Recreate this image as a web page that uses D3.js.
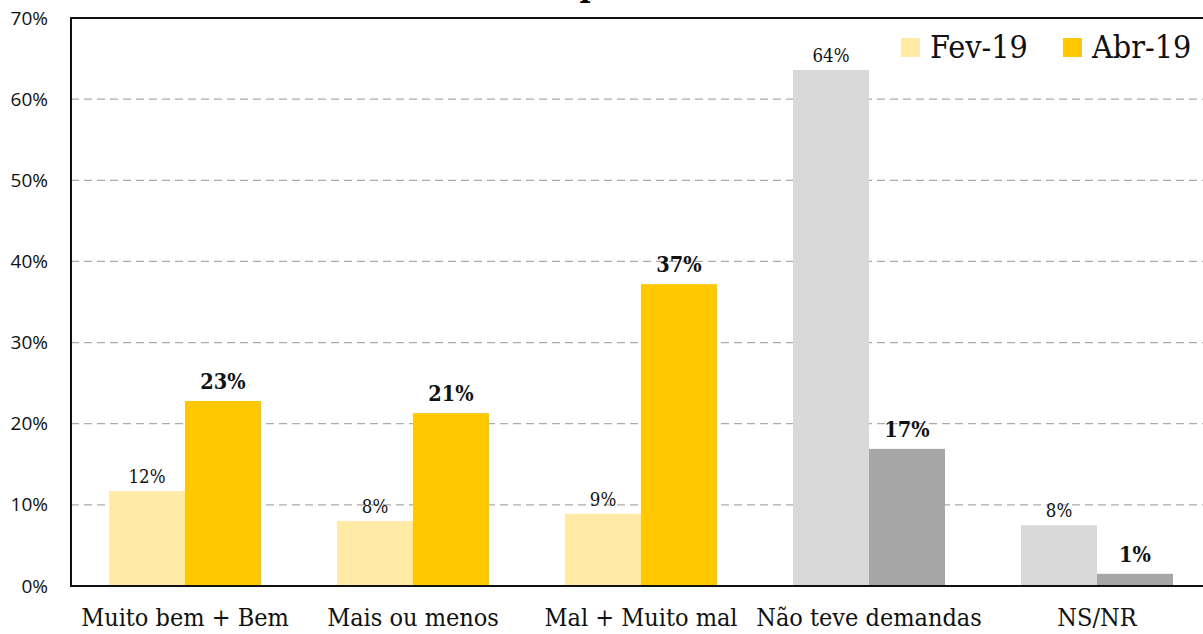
<!DOCTYPE html>
<html>
<head>
<meta charset="utf-8">
<script src="https://cdn.jsdelivr.net/npm/d3@7"></script>
<style>
  body { margin: 0; background: #fff; }
  svg { display: block; }
</style>
</head>
<body>
<div id="chart"></div>
<script>
// chart data
const categories = ["Muito bem + Bem", "Mais ou menos", "Mal + Muito mal", "Não teve demandas", "NS/NR"];
const seriesNames = ["Fev-19", "Abr-19"];
const fevValues = [11.7, 8.0, 8.9, 63.6, 7.5];
const abrValues = [22.8, 21.3, 37.2, 16.9, 1.5];
const fevLabels = ["12%", "8%", "9%", "64%", "8%"];
const abrLabels = ["23%", "21%", "37%", "17%", "1%"];
const yTicks = [0, 10, 20, 30, 40, 50, 60, 70];

const width = 1203, height = 634;
const margins = {top: 18, right: -8, bottom: 48, left: 71};

const svg = d3.select("#chart")
    .append("svg")
    .attr("width", width)
    .attr("height", height);

/* scales */
const x0 = d3.scaleBand()
    .domain(categories)
    .range([margins.left, width - margins.right])
    .paddingInner(1/3)
    .paddingOuter(1/6);
const x1 = d3.scaleBand()
    .domain(seriesNames)
    .range([0, x0.bandwidth()]);
const y = d3.scaleLinear()
    .domain([0, 70])
    .range([height - margins.bottom, margins.top]);

// yellow for the rated answers, grey for the last two
const colors = {
    "Fev-19": d => d.i < 3 ? "#ffeaa6" : "#d9d9d9",
    "Abr-19": d => d.i < 3 ? "#ffc800" : "#a6a6a6"
};

const rows = categories.map((c, i) => ({
    cat: c, i: i,
    vals: [
        {s: "Fev-19", v: fevValues[i], label: fevLabels[i], i: i},
        {s: "Abr-19", v: abrValues[i], label: abrLabels[i], i: i}
    ]
}));

/* title (cut off by the top edge, as in the source) */
svg.append("text")
    .attr("x", 590)
    .attr("y", -3)
    .attr("text-anchor", "middle")
    .style("font-family", "DejaVu Serif")
    .style("font-weight", "bold")
    .style("font-size", "30px")
    .text("p");

/* grid */
svg.append("g")
    .selectAll("line")
    .data(yTicks.filter(t => t > 0 && t < 70))
    .join("line")
    .attr("x1", margins.left)
    .attr("x2", width)
    .attr("y1", d => y(d))
    .attr("y2", d => y(d))
    .attr("stroke", "#ababab")
    .attr("stroke-width", 1.3)
    .attr("stroke-dasharray", "8,5");

/* bars */
const groups = svg.append("g")
    .selectAll("g")
    .data(rows)
    .join("g")
    .attr("transform", d => `translate(${x0(d.cat)},0)`);

groups.selectAll("rect")
    .data(d => d.vals)
    .join("rect")
    .attr("x", d => x1(d.s))
    .attr("y", d => y(d.v))
    .attr("width", x1.bandwidth())
    .attr("height", d => y(0) - y(d.v))
    .attr("fill", d => colors[d.s](d));

groups.selectAll("text")
    .data(d => d.vals)
    .join("text")
    .attr("x", d => x1(d.s) + x1.bandwidth() / 2)
    .attr("y", d => y(d.v) - (d.s === "Fev-19" ? 8 : 12))
    .attr("text-anchor", "middle")
    .style("font-family", "DejaVu Serif")
    .style("font-stretch", "condensed")
    .style("font-weight", d => d.s === "Fev-19" ? "normal" : "bold")
    .style("font-size", d => d.s === "Fev-19" ? "18.5px" : "21.5px")
    .attr("fill", "#111")
    .text(d => d.label);

/* axes */
const yAxis = d3.axisLeft(y).tickValues(yTicks).tickFormat(d => d + "%").tickSize(0).tickPadding(23);
const yGroup = svg.append("g")
    .attr("transform", `translate(${margins.left},0)`)
    .call(yAxis);
yGroup.select(".domain").remove();
yGroup.selectAll("text")
    .style("font-family", "Open Sans")
    .style("font-size", "19px")
    .attr("fill", "#111");

const xAxis = d3.axisBottom(x0).tickSize(0).tickPadding(22);
const xGroup = svg.append("g")
    .attr("transform", `translate(0,${height - margins.bottom})`)
    .call(xAxis);
xGroup.select(".domain").remove();
xGroup.selectAll("text")
    .style("font-family", "DejaVu Serif")
    .style("font-stretch", "condensed")
    .style("font-size", "25px")
    .attr("fill", "#111");

/* frame */
svg.append("path")
    .attr("d", `M${width},${y(70)}H${margins.left}V${y(0)}H${width}`)
    .attr("fill", "none")
    .attr("stroke", "#111")
    .attr("stroke-width", 2);

/* legend */
const legend = svg.append("g")
    .attr("transform", "translate(901,38)");
const legendItems = legend.selectAll("g")
    .data(seriesNames)
    .join("g")
    .attr("transform", (d, i) => `translate(${i * 162},0)`);
legendItems.append("rect")
    .attr("width", 19)
    .attr("height", 19)
    .attr("fill", (d, i) => i === 0 ? "#ffeaa6" : "#ffc800");
legendItems.append("text")
    .attr("x", 29)
    .attr("y", 20)
    .style("font-family", "DejaVu Serif")
    .style("font-stretch", "condensed")
    .style("font-size", "32px")
    .attr("fill", "#111")
    .text(d => d);
</script>
</body>
</html>
